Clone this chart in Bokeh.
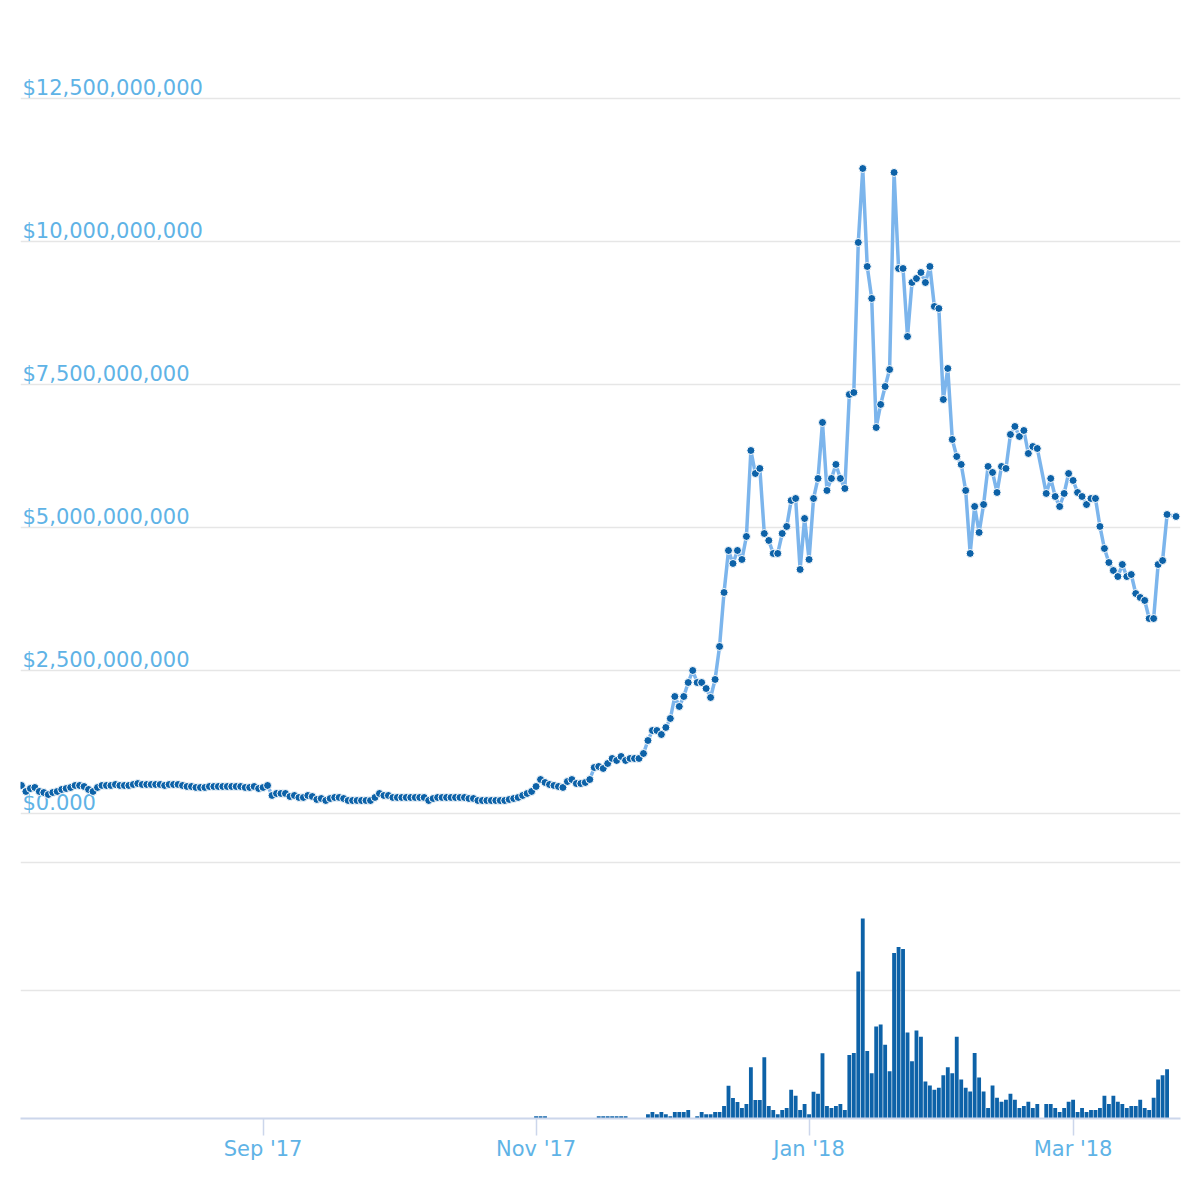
import pandas as pd
from bokeh.plotting import figure
from bokeh.models import Range1d, FixedTicker, DatetimeTickFormatter, ColumnDataSource
from bokeh.embed import file_html
from bokeh.resources import INLINE
from bokeh.core.properties import value

# ---------------- data ----------------
start_date = "2017-07-09"

# daily market capitalisation, billions of USD (None = no data that day)
market_cap_bn = [
    0.49, 0.385, 0.437, 0.455, 0.385, 0.367, 0.332, 0.367, 0.385, 0.42,
    0.437, 0.455, 0.49, 0.49, 0.472, 0.42, 0.385, 0.455, 0.49, 0.49,
    0.49, 0.507, 0.49, 0.49, 0.49, 0.507, 0.524, 0.507, 0.507, 0.507,
    0.507, 0.507, 0.49, 0.507, 0.507, 0.507, 0.49, 0.472, 0.472, 0.455,
    0.455, 0.455, 0.472, 0.472, 0.472, 0.472, 0.472, 0.472, 0.472, 0.472,
    0.455, 0.455, 0.472, 0.437, 0.455, 0.49, 0.315, 0.35, 0.35, 0.35,
    0.297, 0.315, 0.28, 0.28, 0.315, 0.297, 0.245, 0.262, 0.227, 0.262,
    0.28, 0.28, 0.262, 0.227, 0.227, 0.227, 0.227, 0.227, 0.227, 0.28,
    0.35, 0.315, 0.315, 0.28, 0.28, 0.28, 0.28, 0.28, 0.28, 0.28,
    0.28, 0.227, 0.262, 0.28, 0.28, 0.28, 0.28, 0.28, 0.28, 0.28,
    0.262, 0.262, 0.227, 0.227, 0.227, 0.227, 0.227, 0.227, 0.227, 0.245,
    0.262, 0.28, 0.315, 0.35, 0.385, 0.472, 0.594, 0.542, 0.507, 0.49,
    0.472, 0.455, 0.559, 0.594, 0.524, 0.524, 0.542, 0.594, 0.804, 0.822,
    0.787, 0.874, 0.962, 0.927, 0.997, 0.927, 0.962, 0.962, 0.962, 1.049,
    1.276, 1.451, 1.451, 1.381, 1.504, 1.661, 2.045, 1.871, 2.045, 2.29,
    2.5, 2.29, 2.29, 2.185, 2.028, 2.343, 2.92, 3.864, 4.598, 4.371,
    4.598, 4.441, 4.843, 6.346, 5.944, 6.032, 4.895, 4.773, 4.546, 4.546,
    4.895, 5.018, 5.472, 5.507, 4.266, 5.157, 4.441, 5.507, 5.857, 6.836,
    5.647, 5.857, 6.102, 5.857, 5.682, 7.325, 7.36, 9.983, 11.276, 9.563,
    9.004, 6.748, 7.151, 7.465, 7.762, 11.207, 9.528, 9.528, 8.339, 9.283,
    9.353, 9.458, 9.283, 9.563, 8.864, 8.829, 7.238, 7.78, 6.539, 6.241,
    6.102, 5.647, 4.546, 5.367, 4.913, 5.402, 6.067, 5.962, 5.612, 6.067,
    6.032, 6.626, 6.766, 6.591, 6.696, 6.294, 6.416, 6.381, None, 5.595,
    5.857, 5.542, 5.367, 5.595, 5.944, 5.822, 5.612, 5.542, 5.402, 5.507,
    5.507, 5.018, 4.633, 4.388, 4.248, 4.143, 4.353, 4.143, 4.178, 3.846,
    3.776, 3.724, 3.409, 3.409, 4.353, 4.423, 5.227, None, 5.192,
]

# daily traded volume, billions of USD (None = no data that day)
volume_bn = [
    0, 0, 0, 0, 0, 0, 0, 0, 0, 0, 0, 0, 0, 0, 0, 0, 0, 0, 0, 0,
    0, 0, 0, 0, 0, 0, 0, 0, 0, 0, 0, 0, 0, 0, 0, 0, 0, 0, 0, 0,
    0, 0, 0, 0, 0, 0, 0, 0, 0, 0, 0, 0, 0, 0, 0, 0, 0, 0, 0, 0,
    0, 0, 0, 0, 0, 0, 0, 0, 0, 0, 0, 0, 0, 0, 0, 0, 0, 0, 0, 0,
    0, 0, 0, 0, 0, 0, 0, 0, 0, 0, 0, 0, 0, 0, 0, 0, 0, 0, 0, 0,
    0, 0, 0, 0, 0, 0, 0, 0, 0, 0, 0, 0, 0, 0, 0, 0.018, 0.018, 0.018, 0, 0,
    0, 0, 0, 0, 0, 0, 0, 0, 0, 0.018,
    0.018, 0.018, 0.018, 0.018, 0.018, 0.018, 0, 0, 0, 0,
    0.034, 0.05, 0.034, 0.05, 0.034, 0.018, 0.05, 0.05, 0.05, 0.066,
    0, 0.018, 0.05, 0.034, 0.034, 0.05, 0.05, 0.098, 0.256, 0.161,
    0.129, 0.082, 0.113, 0.4, 0.145, 0.145, 0.479, 0.098, 0.066, 0.034,
    0.066, 0.082, 0.225, 0.177, 0.066, 0.113, 0.034, 0.209, 0.193, 0.51,
    0.098, 0.082, 0.098, 0.114, 0.066, 0.496, 0.512, 1.149, 1.562, 0.528,
    0.353, 0.719, 0.735, 0.576, 0.369, 1.292, 1.34, 1.324, 0.671, 0.448,
    0.687, 0.639, 0.289, 0.257, 0.225, 0.241, 0.337, 0.4, 0.353, 0.639,
    0.305, 0.241, 0.21, 0.512, 0.321, 0.21, 0.082, 0.257, 0.162, 0.13,
    0.146, 0.194, 0.146, 0.082, 0.098, 0.13, 0.082, 0.114, None, 0.114,
    0.114, 0.082, 0.05, 0.082, 0.13, 0.146, 0.05, 0.082, 0.05, 0.066,
    0.066, 0.082, 0.178, 0.114, 0.178, 0.13, 0.114, 0.082, 0.098, 0.098,
    0.146, 0.082, 0.066, 0.162, 0.305, 0.337, 0.385, None, 0,
]

y_tick_values_bn = [0, 2.5, 5, 7.5, 10, 12.5]
y_tick_labels = ["$0.000", "$2,500,000,000", "$5,000,000,000",
                 "$7,500,000,000", "$10,000,000,000", "$12,500,000,000"]
volume_grid_bn = [1, 2]
x_tick_dates = ["2017-09-01", "2017-11-01", "2018-01-01", "2018-03-01"]

# ---------------- styling ----------------
LABEL_BLUE = "#5fb3e6"
LINE_BLUE = "#7cb5ec"
DARK_BLUE = "#0d62a8"
GRID = "#e6e6e6"
AXIS = "#ccd6eb"

dates = pd.date_range(start_date, periods=len(market_cap_bn), freq="D")
df = pd.DataFrame({"date": dates,
                   "cap": pd.array(market_cap_bn, dtype="Float64"),
                   "vol": pd.array(volume_bn, dtype="Float64")}).dropna()
df["cap"] = df["cap"].astype(float) * 1e9
df["vol"] = df["vol"].astype(float) * 1e9
src = ColumnDataSource(df)

x0 = pd.Timestamp(start_date)
x_start = x0 - pd.Timedelta(hours=5)
x_end = x0 + pd.Timedelta(days=259)

p = figure(width=1192, height=1178, x_axis_type="datetime", y_axis_location=None,
           x_range=Range1d(x_start, x_end),
           y_range=Range1d(-5.3322e9, 13.8636e9),
           output_backend="svg", toolbar_location=None,
           min_border_left=20, min_border_right=12, min_border_top=20,
           min_border_bottom=60)
p.extra_y_ranges = {"vol": Range1d(0, 8.578e9)}
p.outline_line_color = None
p.xgrid.visible = False
p.ygrid.visible = False
p.background_fill_color = "white"
p.border_fill_color = "white"

# grid lines
p.hspan(y=[v * 1e9 for v in y_tick_values_bn], line_color=GRID, line_width=1.5,
        level="underlay")
p.hspan(y=[v * 1e9 for v in volume_grid_bn], y_range_name="vol",
        line_color=GRID, line_width=1.5, level="underlay")

# y tick labels drawn inside the plot, above their grid lines
lab_src = ColumnDataSource(dict(x=[x_start] * len(y_tick_labels),
                                y=[v * 1e9 for v in y_tick_values_bn],
                                text=y_tick_labels))
p.text(x="x", y="y", text="text", source=lab_src,
       text_font=value("DejaVu Sans"), text_font_size="21px",
       text_color=LABEL_BLUE, text_align="left", text_baseline="bottom",
       x_offset=2, y_offset=2)

# volume bars
p.vbar(x="date", top="vol", width=0.86 * 86400000, source=src,
       y_range_name="vol", fill_color=DARK_BLUE, line_color=None)

# market cap line + markers
p.line(x="date", y="cap", source=src, line_color=LINE_BLUE, line_width=3.5,
       line_join="round")
p.scatter(x="date", y="cap", source=src, size=8, fill_color=DARK_BLUE,
          line_color="white", line_width=1)

# x axis
xa = p.xaxis[0]
xa.ticker = FixedTicker(ticks=[pd.Timestamp(d).value / 1e6 for d in x_tick_dates])
fmt = "%b '%y"
xa.formatter = DatetimeTickFormatter(days=fmt, months=fmt, years=fmt,
                                     hours=fmt, minutes=fmt)
xa.axis_line_color = AXIS
xa.axis_line_width = 2
xa.major_tick_line_color = AXIS
xa.major_tick_line_width = 1.5
xa.major_tick_out = 17
xa.major_tick_in = 0
xa.minor_tick_line_color = None
xa.major_label_text_font = "DejaVu Sans"
xa.major_label_text_font_size = "21px"
xa.major_label_text_color = LABEL_BLUE
xa.major_label_standoff = 1

open("out.html", "w").write(file_html(p, INLINE))
